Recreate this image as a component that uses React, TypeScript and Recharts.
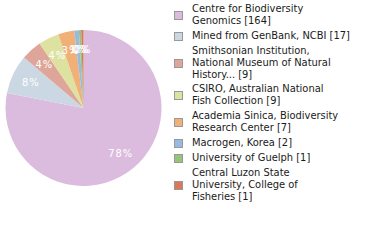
import { PieChart, Pie, Cell } from 'recharts'

const names = [
  'Centre for Biodiversity Genomics [164]',
  'Mined from GenBank, NCBI [17]',
  'Smithsonian Institution, National Museum of Natural History... [9]',
  'CSIRO, Australian National Fish Collection [9]',
  'Academia Sinica, Biodiversity Research Center [7]',
  'Macrogen, Korea [2]',
  'University of Guelph [1]',
  'Central Luzon State University, College of Fisheries [1]',
]
// legend text as wrapped in the picture
const legendLines = [
  ['Centre for Biodiversity', 'Genomics [164]'],
  ['Mined from GenBank, NCBI [17]'],
  ['Smithsonian Institution,', 'National Museum of Natural', 'History... [9]'],
  ['CSIRO, Australian National', 'Fish Collection [9]'],
  ['Academia Sinica, Biodiversity', 'Research Center [7]'],
  ['Macrogen, Korea [2]'],
  ['University of Guelph [1]'],
  ['Central Luzon State', 'University, College of', 'Fisheries [1]'],
]
const counts = [164, 17, 9, 9, 7, 2, 1, 1]
const colors = ['#dcbcde', '#cbd8e4', '#dea698', '#dee2a0', '#f0b078', '#96bae0', '#96c478', '#dc785a']

const total = counts.reduce((a, b) => a + b, 0)
const data = names.map((name, i) => ({ name, value: counts[i] }))

const RAD = Math.PI / 180
const font = '"DejaVu Sans Condensed", "DejaVu Sans", sans-serif'

function renderLabel({ cx, cy, midAngle, outerRadius, value }: any) {
  const r = outerRadius * 0.75
  const x = cx + r * Math.cos(-midAngle * RAD)
  const y = cy + r * Math.sin(-midAngle * RAD)
  return (
    <text x={x} y={y} fill="#fff" fontSize={11} fontFamily={font} textAnchor="middle" dominantBaseline="central" letterSpacing={1}>
      {Math.round((value / total) * 100)}%
    </text>
  )
}

function LegendBox() {
  let y = 3
  const rows: any[] = []
  legendLines.forEach((lines, i) => {
    const h = lines.length * 12
    rows.push(
      <div key={i} style={{ position: 'absolute', left: 0, top: y, height: h, width: 205 }}>
        <div style={{ position: 'absolute', left: 4, top: h / 2 - 4, width: 7, height: 7, background: colors[i], border: '1px solid #999' }} />
        <div style={{ position: 'absolute', left: 22, top: 0, fontSize: 11, lineHeight: '12px', color: '#1a1a1a', whiteSpace: 'nowrap' }}>
          {lines.map((l, j) => <div key={j}>{l}</div>)}
        </div>
      </div>
    )
    y += h + 2.8
  })
  return <div style={{ position: 'absolute', left: 170, top: 0, width: 210, height: 240, fontFamily: font }}>{rows}</div>
}

export default function App() {
  return (
    <div style={{ position: 'absolute', left: 0, top: 0, width: 380, height: 240, background: '#fff' }}>
      <PieChart width={380} height={240} margin={{ top: 0, right: 0, bottom: 0, left: 0 }}>
        <Pie
          data={data}
          dataKey="value"
          cx={83.5}
          cy={108}
          outerRadius={78}
          startAngle={90}
          endAngle={-270}
          stroke="none"
          label={renderLabel}
          labelLine={false}
          isAnimationActive={false}
        >
          {data.map((d, i) => <Cell key={d.name} fill={colors[i]} />)}
        </Pie>
      </PieChart>
      <LegendBox />
    </div>
  )
}
